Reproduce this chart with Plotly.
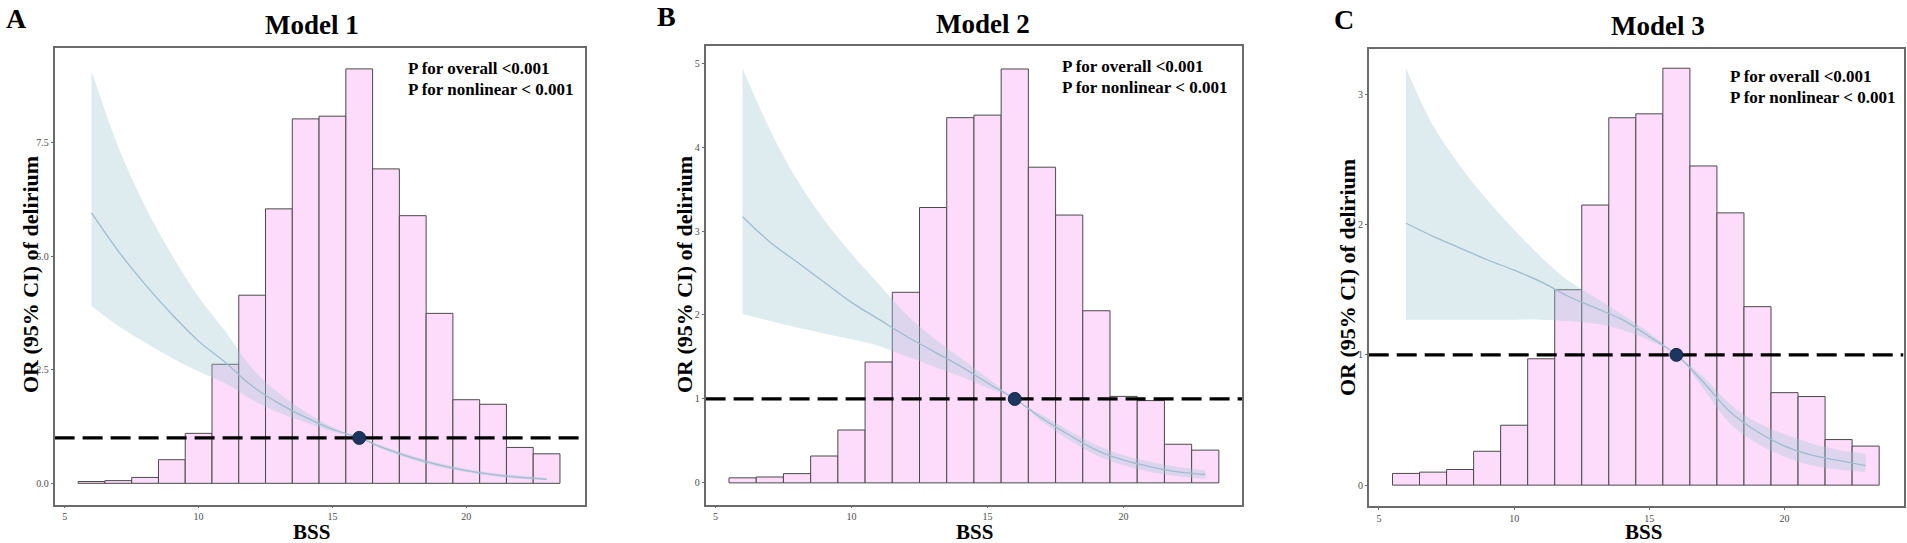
import plotly.graph_objects as go

W, H = 1907, 543
SERIF = "Liberation Serif"

# BSS histogram bins (bar centres) and spline sample points
bss_bins = [6, 7, 8, 9, 10, 11, 12, 13, 14, 15, 16, 17, 18, 19, 20, 21, 22, 23]
bss_curve = [6, 7, 8, 9, 10, 11, 12, 13, 14, 15, 16, 17, 18, 19, 20, 21, 22, 23]

# histogram heights, rescaled onto the OR axis of each panel
hist_m1 = [0.04, 0.06, 0.13, 0.52, 1.10, 2.62, 4.14, 6.04, 8.02, 8.08, 9.12, 6.92, 5.89, 3.74, 1.84, 1.74, 0.79, 0.65]
hist_m2 = [0.06, 0.07, 0.11, 0.32, 0.63, 1.44, 2.27, 3.28, 4.35, 4.38, 4.93, 3.76, 3.19, 2.05, 1.03, 0.98, 0.46, 0.39]
hist_m3 = [0.09, 0.10, 0.12, 0.26, 0.46, 0.97, 1.50, 2.15, 2.82, 2.85, 3.20, 2.45, 2.09, 1.37, 0.71, 0.68, 0.35, 0.30]

# OR and 95% CI along BSS
or_m1 = [5.95, 5.11, 4.38, 3.72, 3.13, 2.66, 2.14, 1.76, 1.45, 1.19, 1.00, 0.76, 0.56, 0.40, 0.28, 0.19, 0.13, 0.09]
hi_m1 = [9.08, 7.40, 6.10, 5.03, 4.10, 3.34, 2.53, 1.98, 1.57, 1.24, 1.00, 0.80, 0.60, 0.44, 0.32, 0.23, 0.17, 0.12]
lo_m1 = [3.90, 3.46, 3.10, 2.76, 2.46, 2.20, 1.84, 1.56, 1.34, 1.14, 1.00, 0.72, 0.52, 0.36, 0.25, 0.16, 0.10, 0.07]

or_m2 = [3.17, 2.87, 2.63, 2.39, 2.15, 1.95, 1.75, 1.57, 1.39, 1.19, 1.00, 0.77, 0.57, 0.39, 0.27, 0.19, 0.13, 0.10]
hi_m2 = [4.94, 4.21, 3.61, 3.13, 2.73, 2.37, 2.01, 1.73, 1.49, 1.25, 1.00, 0.81, 0.62, 0.45, 0.33, 0.25, 0.19, 0.15]
lo_m2 = [2.01, 1.93, 1.85, 1.78, 1.71, 1.63, 1.51, 1.39, 1.27, 1.13, 1.00, 0.73, 0.51, 0.33, 0.21, 0.13, 0.08, 0.05]

or_m3 = [2.01, 1.91, 1.82, 1.73, 1.65, 1.56, 1.45, 1.36, 1.27, 1.14, 1.00, 0.79, 0.56, 0.41, 0.30, 0.23, 0.19, 0.15]
hi_m3 = [3.20, 2.76, 2.45, 2.19, 1.96, 1.75, 1.57, 1.44, 1.31, 1.17, 1.00, 0.83, 0.62, 0.48, 0.39, 0.32, 0.27, 0.24]
lo_m3 = [1.27, 1.27, 1.27, 1.27, 1.27, 1.27, 1.26, 1.24, 1.19, 1.11, 1.00, 0.74, 0.47, 0.32, 0.22, 0.15, 0.12, 0.10]

ref_bss = 16
ref_or = 1

x_ticks = [5, 10, 15, 20]
y_ticks_m1 = [0, 2.5, 5, 7.5]
y_labels_m1 = ["0.0", "2.5", "5.0", "7.5"]
y_ticks_m2 = [0, 1, 2, 3, 4, 5]
y_ticks_m3 = [0, 1, 2, 3]

titles = ["Model 1", "Model 2", "Model 3"]
letters = ["A", "B", "C"]
p_lines = ["P for overall <0.001", "P for nonlinear < 0.001"]


def px(x):
    return x / W


def py(y):
    return 1 - y / H


panels = [
    dict(hist=hist_m1, orv=or_m1, hi=hi_m1, lo=lo_m1, yt=y_ticks_m1, yl=y_labels_m1,
         box=(54.6, 584.6, 48, 504.7), xr=[4.62, 24.42], yr=[-0.47, 9.58],
         letter=(4, 18), title=(312, 25), ptxt=(406, 68.6), ytitle=(30, 275), xtitle=311),
    dict(hist=hist_m2, orv=or_m2, hi=hi_m2, lo=lo_m2, yt=y_ticks_m2, yl=[str(v) for v in y_ticks_m2],
         box=(705.6, 1242, 46.3, 504.7), xr=[4.64, 24.35], yr=[-0.26, 5.2],
         letter=(655, 16.5), title=(982.6, 24), ptxt=(1060, 66), ytitle=(684, 275), xtitle=974),
    dict(hist=hist_m3, orv=or_m3, hi=hi_m3, lo=lo_m3, yt=y_ticks_m3, yl=[str(v) for v in y_ticks_m3],
         box=(1368.7, 1903.5, 48.7, 506), xr=[4.62, 24.4], yr=[-0.16, 3.35],
         letter=(1332, 19), title=(1657.5, 26), ptxt=(1728, 76.3), ytitle=(1347, 278), xtitle=1643),
]

fig = go.Figure()
annotations = []
layout_axes = {}

for i, p in enumerate(panels):
    n = "" if i == 0 else str(i + 1)
    xa, ya = "x" + n, "y" + n

    fig.add_trace(go.Bar(
        x=bss_bins, y=p["hist"], width=1, xaxis=xa, yaxis=ya,
        marker=dict(color="#fddbfa", line=dict(color="#4a4a4a", width=1)),
    ))
    fig.add_trace(go.Scatter(
        x=bss_curve, y=p["lo"], mode="lines", line=dict(width=0, shape="spline"),
        xaxis=xa, yaxis=ya, hoverinfo="skip",
    ))
    fig.add_trace(go.Scatter(
        x=bss_curve, y=p["hi"], mode="lines", line=dict(width=0, shape="spline"),
        fill="tonexty", fillcolor="rgba(160,200,212,0.35)", xaxis=xa, yaxis=ya,
    ))
    fig.add_trace(go.Scatter(
        x=bss_curve, y=p["orv"], mode="lines",
        line=dict(color="#9dbdd0", width=1.3, shape="spline"), xaxis=xa, yaxis=ya,
    ))
    fig.add_trace(go.Scatter(
        x=p["xr"], y=[ref_or, ref_or], mode="lines",
        line=dict(color="black", width=3.2, dash="20px,8px"), xaxis=xa, yaxis=ya,
    ))
    fig.add_trace(go.Scatter(
        x=[ref_bss], y=[ref_or], mode="markers",
        marker=dict(size=13, color="#1c3660", line=dict(color="#142848", width=1)),
        xaxis=xa, yaxis=ya,
    ))

    l, r, t, b = p["box"]
    axis_common = dict(
        showline=True, mirror=True, linecolor="#6b6b6b", linewidth=1.5,
        ticks="outside", ticklen=2, tickcolor="#6b6b6b",
        tickfont=dict(family=SERIF, size=10, color="#4d4d4d"),
        showgrid=False, zeroline=False, fixedrange=True,
    )
    layout_axes["xaxis" + n] = dict(
        domain=[px(l), px(r)], range=p["xr"], anchor=ya,
        tickvals=x_ticks, ticktext=[str(v) for v in x_ticks], **axis_common)
    layout_axes["yaxis" + n] = dict(
        domain=[py(b), py(t)], range=p["yr"], anchor=xa,
        tickvals=p["yt"], ticktext=p["yl"], **axis_common)

    lx, ly = p["letter"]
    annotations.append(dict(text="<b>%s</b>" % letters[i], x=px(lx), y=py(ly), xanchor="left", yanchor="middle",
                            font=dict(family=SERIF, size=28, color="black")))
    tx, ty = p["title"]
    annotations.append(dict(text="<b>%s</b>" % titles[i], x=px(tx), y=py(ty), xanchor="center", yanchor="middle",
                            font=dict(family=SERIF, size=27, color="black")))
    ptx, pty = p["ptxt"]
    for k, line in enumerate(p_lines):
        annotations.append(dict(text="<b>%s</b>" % line, x=px(ptx), y=py(pty + 21 * k), xanchor="left",
                                yanchor="middle", font=dict(family=SERIF, size=17, color="black")))
    yx, yy = p["ytitle"]
    annotations.append(dict(text="<b>OR (95% CI) of delirium</b>", x=px(yx), y=py(yy), textangle=-90,
                            xanchor="center", yanchor="middle", font=dict(family=SERIF, size=22, color="black")))
    # x title sits on the bottom edge of the canvas, as in the reference
    annotations.append(dict(text="<b>BSS</b>", x=px(p["xtitle"]), y=0, xanchor="center", yanchor="bottom",
                            yshift=-3, font=dict(family=SERIF, size=21, color="black")))

for a in annotations:
    a.update(xref="paper", yref="paper", showarrow=False)

fig.update_layout(
    width=W, height=H,
    margin=dict(l=0, r=0, t=0, b=0),
    paper_bgcolor="white", plot_bgcolor="white",
    showlegend=False, barmode="overlay",
    annotations=annotations,
    **layout_axes,
)

# drop the default body margin so the 1907x543 figure fills the window exactly
fig.write_html(
    "out.html",
    config={"displayModeBar": False},
    post_script="document.body.style.margin='0px';document.body.style.overflow='hidden';",
)
